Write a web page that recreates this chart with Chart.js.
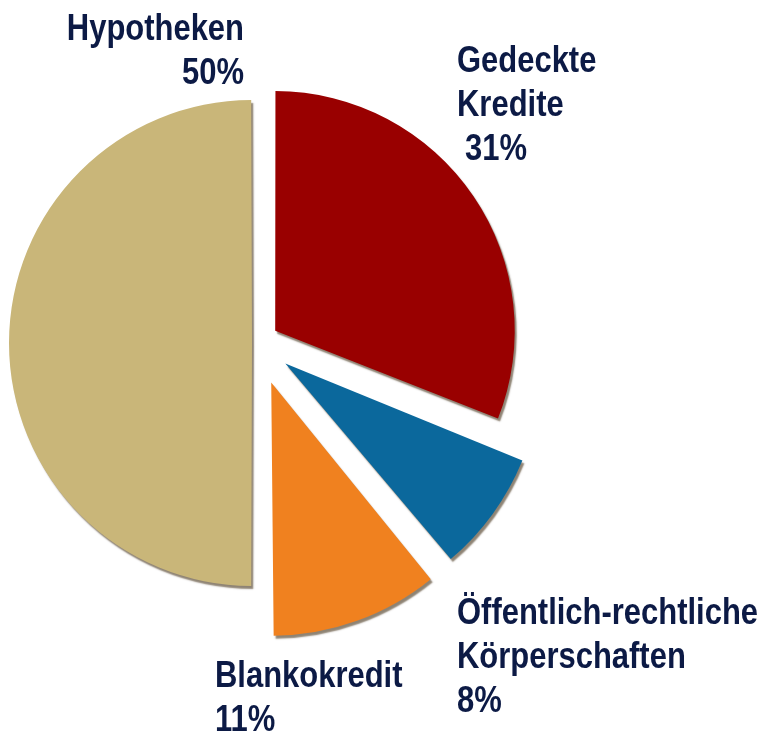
<!DOCTYPE html>
<html>
<head>
<meta charset="utf-8">
<script src="https://cdn.jsdelivr.net/npm/chart.js@4"></script>
<style>
  html, body { margin: 0; padding: 0; background: #fff; }
  canvas { display: block; }
</style>
</head>
<body>
<canvas id="pie" width="774" height="737"></canvas>
<script>
// ── daten ──
const categories = ['Gedeckte Kredite', 'Öffentlich-rechtliche Körperschaften', 'Blankokredit', 'Hypotheken'];
const shares     = [31, 8, 11, 50];   // Prozent
const colors     = ['#990000', '#0B689C', '#F0811F', '#C9B679'];

// ── layout der beschriftungen (pixel) ──
const LABEL_FONT = 'bold 36px "Liberation Sans", Arial, sans-serif';
const NARROW = 0.86;   // schmale schrift nachbilden
const LINE_H = 44;
const labelPos = [
    { x: 457, y: 72,  align: 'left',  pctX: 465 },
    { x: 457, y: 624, align: 'left' },
    { x: 215, y: 687, align: 'left' },
    { x: 244, y: 40,  align: 'right' },
];

// chart.js v4: verschiebung = offset/4, radius wächst um offset/4*(1-sin(winkel))
const sliceOffsets = [88, 140, 168, 20];

// schatten unter den segmenten
const shadowPlugin = {
    id: 'sliceShadow',
    beforeDatasetsDraw(chart) {
        const c = chart.ctx;
        c.save();
        c.shadowColor = 'rgba(50,30,0,0.55)';
        c.shadowOffsetX = 2;
        c.shadowOffsetY = 3;
        c.shadowBlur = 1.5;
    },
    afterDatasetsDraw(chart) { chart.ctx.restore(); }
};

// beschriftungen
function drawText(c, txt, x, y) {
    c.save();
    c.translate(x, y);
    c.scale(NARROW, 1);
    c.fillText(txt, 0, 0);
    c.restore();
}

const labelPlugin = {
    id: 'sliceLabels',
    afterDraw(chart) {
        const c = chart.ctx;
        c.save();
        c.font = LABEL_FONT;
        c.fillStyle = '#0C1A45';
        c.textBaseline = 'alphabetic';
        categories.forEach((name, i) => {
            const p = labelPos[i];
            const lines = name === 'Blankokredit' ? [name] : name.split(' ');
            c.textAlign = p.align;
            lines.forEach((ln, k) => drawText(c, ln, p.x, p.y + k * LINE_H));
            drawText(c, shares[i] + '%', p.pctX || p.x, p.y + lines.length * LINE_H);
        });
        c.restore();
    }
};

new Chart(document.getElementById('pie'), {
    type: 'pie',
    data: {
        labels: categories,
        datasets: [{
            data: shares,
            backgroundColor: colors,
            borderWidth: 0,
            offset: sliceOffsets,
            hoverOffset: 0
        }]
    },
    options: {
        responsive: false,
        animation: false,
        radius: 238,
        layout: { padding: { left: 0, right: 260, top: 0, bottom: 51 } },
        plugins: {
            legend: { display: false },
            tooltip: { enabled: false }
        },
        events: []
    },
    plugins: [shadowPlugin, labelPlugin]
});
</script>
</body>
</html>
